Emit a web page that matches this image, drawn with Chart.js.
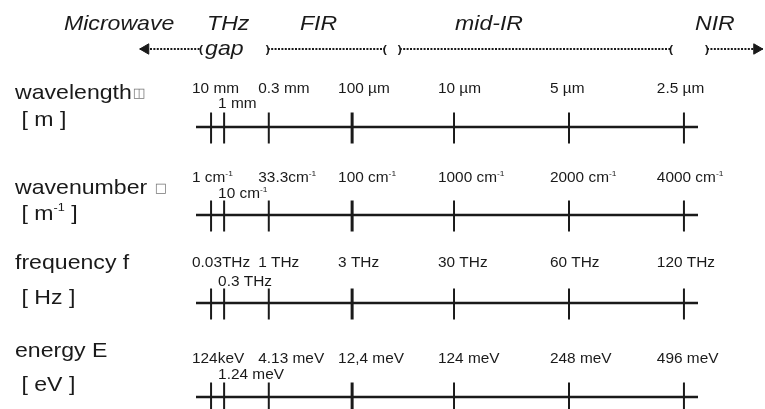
<!DOCTYPE html>
<html>
<head>
<meta charset="utf-8">
<script src="https://cdn.jsdelivr.net/npm/chart.js@4.4.1/dist/chart.umd.min.js"></script>
<style>
  html, body { margin: 0; padding: 0; background: #fff; }
</style>
</head>
<body>
<canvas id="spectrum" width="765" height="409"></canvas>
<script>
// ---- data ----
const rowNames = ['wavelength', 'wavenumber ', 'frequency f', 'energy E'];
const rowMarks = ['\u25EB', '\u25A1', '', ''];   // the missing-glyph boxes after the names
const rowUnits = [' [ m ]', ' [ m^-1 ]', ' [ Hz ]', ' [ eV ]'];

// place of each tick along the schematic axis (0 = left end, 100 = right end)
const tickPos = [3.0, 5.6, 14.5, 31.1, 51.4, 74.3, 97.2];

const wavelengthLabels = ['10 mm', '1 mm', '0.3 mm', '100 \u00B5m', '10 \u00B5m', '5 \u00B5m', '2.5 \u00B5m'];
const wavenumberLabels = ['1 cm^-1', '10 cm^-1', '33.3cm^-1', '100 cm^-1', '1000 cm^-1', '2000 cm^-1', '4000 cm^-1'];
const frequencyLabels = ['0.03THz', '0.3 THz', '1 THz', '3 THz', '30 THz', '60 THz', '120 THz'];
const energyLabels = ['124keV', '1.24 meV', '4.13 meV', '12,4 meV', '124 meV', '248 meV', '496 meV'];
const tickLabels = [wavelengthLabels, wavenumberLabels, frequencyLabels, energyLabels];

// spectral bands drawn as dotted arrows on top
const bandNames = ['Microwave', 'FIR', 'mid-IR', 'NIR'];
const bandFrom = [-11.2, 14.3, 40.6, 101.8];
const bandTo = [1.0, 37.6, 94.6, 112.9];
const gapName = ['THz', 'gap'];

// ---- layout ----
const PX_PER_UNIT = 5.02;
const X_MIN = -196 / PX_PER_UNIT;
const X_MAX = 100 + 67 / PX_PER_UNIT;
const axisY = [127, 215, 303, 397];
const nameBase = [99, 194, 269, 357];
const unitBase = [126, 220, 304, 391];
const labelBase = [93, 182, 267, 363];
const subBase = [108, 198, 286, 379];
const labelCol = [-0.8, 4.4, 12.4, 28.3, 48.2, 70.5, 91.8];
const bandLabelX = [-26.3, 20.7, 51.6, 99.4];
const gapLabelX = [2.2, 1.8];
const bandY = 49;
const bandBase = 30;
const ink = '#1a1a1a';
const STRETCH = 1.1;
const FONT = '"Liberation Sans", Arial, sans-serif';

const datasets = [];
axisY.forEach((y, r) => {
  datasets.push({
    data: [{ x: 0, y: y }, { x: 100, y: y }],
    showLine: true, borderColor: ink, borderWidth: 2.5, pointRadius: 0
  });
  datasets.push({
    data: tickPos.map(x => ({ x: x, y: y + 1 })),
    showLine: false, pointStyle: 'line', rotation: 90, pointRadius: 15.5,
    pointBorderColor: ink,
    pointBorderWidth: tickPos.map((_, i) => i === 3 ? 3 : 2)
  });
});
bandNames.forEach((_, i) => {
  datasets.push({
    data: [{ x: bandFrom[i], y: bandY }, { x: bandTo[i], y: bandY }],
    showLine: true, borderColor: ink, borderWidth: 2, borderDash: [2, 1.4], pointRadius: 0
  });
});
// arrow heads at the outer ends
datasets.push({
  data: [
    { x: bandFrom[0] + 6 / PX_PER_UNIT, y: bandY },
    { x: bandTo[3] - 6 / PX_PER_UNIT, y: bandY }
  ],
  showLine: false, pointStyle: 'triangle', rotation: [-90, 90], pointRadius: 6,
  pointBackgroundColor: ink, pointBorderColor: ink, pointBorderWidth: 1
});

function measure(ctx, text, size) {
  ctx.save();
  ctx.font = size + 'px ' + FONT;
  const w = ctx.measureText(text).width * STRETCH;
  ctx.restore();
  return w;
}

function drawRich(ctx, text, x, y, size, style) {
  const parts = text.split(/\^(\S+)/);
  ctx.save();
  ctx.translate(x, y);
  ctx.scale(STRETCH, 1);
  let cx = 0;
  parts.forEach((p, i) => {
    if (!p) return;
    const sup = i % 2 === 1;
    const s = sup ? size * 0.55 : size;
    ctx.font = (style || '') + ' ' + s + 'px ' + FONT;
    ctx.fillText(p, cx, sup ? -size * 0.42 : 0);
    cx += ctx.measureText(p).width;
  });
  ctx.restore();
}

const textPlugin = {
  id: 'spectrumText',
  afterDatasetsDraw(chart) {
    const ctx = chart.ctx;
    const xs = chart.scales.x;
    ctx.save();
    ctx.fillStyle = ink;
    ctx.textAlign = 'left';
    ctx.textBaseline = 'alphabetic';

    // band names
    bandNames.forEach((n, i) => drawRich(ctx, n, xs.getPixelForValue(bandLabelX[i]), bandBase, 21, 'italic'));
    drawRich(ctx, gapName[0], xs.getPixelForValue(gapLabelX[0]), bandBase, 21, 'italic');
    drawRich(ctx, gapName[1], xs.getPixelForValue(gapLabelX[1]), bandY + 6, 21, 'italic');

    // brackets at inner band ends
    bandNames.forEach((_, i) => {
      if (i > 0) drawRich(ctx, ')', xs.getPixelForValue(bandFrom[i]) - 2, bandY + 4, 11, 'bold');
      if (i < 3) drawRich(ctx, '(', xs.getPixelForValue(bandTo[i]) - 2, bandY + 4, 11, 'bold');
    });

    // row names, units and tick labels
    rowNames.forEach((n, r) => {
      drawRich(ctx, n, 15, nameBase[r], 21);
      if (rowMarks[r]) {
        ctx.save();
        ctx.fillStyle = '#777';
        ctx.font = '13px "DejaVu Sans", sans-serif';
        ctx.fillText(rowMarks[r], 16 + measure(ctx, n, 21), nameBase[r] - 2);
        ctx.restore();
      }
      drawRich(ctx, rowUnits[r], 15, unitBase[r], 21);
      tickLabels[r].forEach((t, i) => {
        const base = i === 1 ? subBase[r] : labelBase[r];
        drawRich(ctx, t, xs.getPixelForValue(labelCol[i]), base, 14);
      });
    });
    ctx.restore();
  }
};

new Chart(document.getElementById('spectrum'), {
  type: 'scatter',
  data: { datasets: datasets },
  options: {
    responsive: false,
    animation: false,
    events: [],
    layout: { padding: 0, autoPadding: false },
    plugins: { legend: { display: false }, tooltip: { enabled: false } },
    scales: {
      x: { type: 'linear', display: false, min: X_MIN, max: X_MAX },
      y: { type: 'linear', display: false, min: 0, max: 409, reverse: true }
    }
  },
  plugins: [textPlugin]
});
</script>
</body>
</html>
